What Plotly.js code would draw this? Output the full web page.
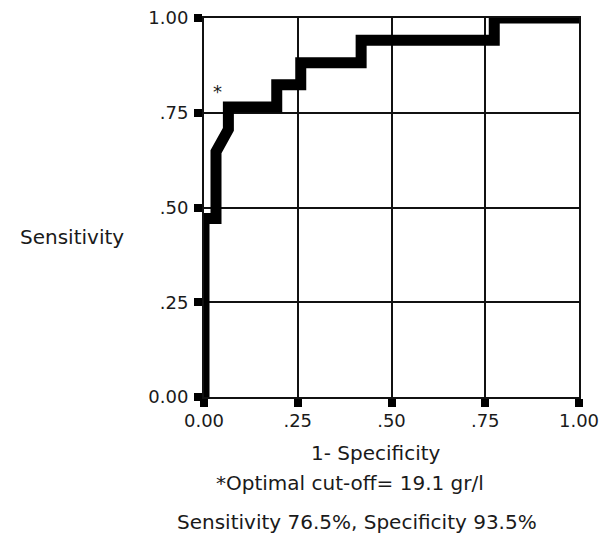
<!DOCTYPE html>
<html>
<head>
<meta charset="utf-8">
<script src="https://cdn.plot.ly/plotly-3.0.1.min.js"></script>
<style>html,body{margin:0;padding:0;background:#fff;}#chart{width:599px;height:536px;}</style>
</head>
<body>
<div id="chart"></div>
<script>
// ROC curve (1 - specificity, sensitivity)
var fpr = [0, 0, 0.032, 0.032, 0.065, 0.065, 0.194, 0.194, 0.258, 0.258, 0.419, 0.419, 0.774, 0.774, 1.0];
var tpr = [0, 0.471, 0.471, 0.647, 0.706, 0.765, 0.765, 0.824, 0.824, 0.882, 0.882, 0.941, 0.941, 1.0, 1.0];
var tickVals = [0, 0.25, 0.5, 0.75, 1];
var tickText = ["0.00", ".25", ".50", ".75", "1.00"];
var optimalPoint = {x: 0.035, y: 0.805, label: "*"};
var xTitle = "1- Specificity";
var yTitle = "Sensitivity";
var note1 = "*Optimal cut-off= 19.1 gr/l";
var note2 = "Sensitivity 76.5%, Specificity 93.5%";

var FONT = "DejaVu Sans, Verdana, sans-serif";
var TXT = "#1a1a1a";

var trace = {
  x: fpr, y: tpr, type: "scatter", mode: "lines",
  line: {color: "#000", width: 11, shape: "linear"},
  cliponaxis: false, hoverinfo: "skip"
};

var axisCommon = {
  range: [0, 1], tickmode: "array", tickvals: tickVals, ticktext: tickText,
  showgrid: true, gridcolor: "#111", gridwidth: 2,
  showline: true, linecolor: "#111", linewidth: 2, mirror: true,
  ticks: "outside", ticklen: 8, tickwidth: 8, tickcolor: "#000",
  zeroline: false, fixedrange: true, ticklabeloverflow: "allow",
  tickfont: {family: FONT, size: 18, color: TXT}
};

var layout = {
  width: 599, height: 536,
  margin: {l: 204, r: 20, t: 18, b: 139},
  paper_bgcolor: "#fff", plot_bgcolor: "#fff",
  showlegend: false,
  xaxis: Object.assign({}, axisCommon, {ticklabelstandoff: -2}),
  yaxis: Object.assign({}, axisCommon, {ticklabelstandoff: 2}),
  annotations: [
    {text: optimalPoint.label, x: optimalPoint.x, y: optimalPoint.y, xref: "x", yref: "y",
     showarrow: false, font: {family: FONT, size: 18, color: TXT}},
    {text: yTitle, x: -0.351, y: 0.422, xref: "paper", yref: "paper", xanchor: "center", yanchor: "middle",
     showarrow: false, font: {family: FONT, size: 20, color: TXT}},
    {text: xTitle, x: 0.459, y: -0.148, xref: "paper", yref: "paper", xanchor: "center", yanchor: "middle",
     showarrow: false, font: {family: FONT, size: 20, color: TXT}},
    {text: note1, x: 0.389, y: -0.227, xref: "paper", yref: "paper", xanchor: "center", yanchor: "middle",
     showarrow: false, font: {family: FONT, size: 20, color: TXT}},
    {text: note2, x: 0.409, y: -0.330, xref: "paper", yref: "paper", xanchor: "center", yanchor: "middle",
     showarrow: false, font: {family: FONT, size: 20, color: TXT}}
  ]
};

Plotly.newPlot("chart", [trace], layout, {staticPlot: true, displayModeBar: false});
</script>
</body>
</html>
